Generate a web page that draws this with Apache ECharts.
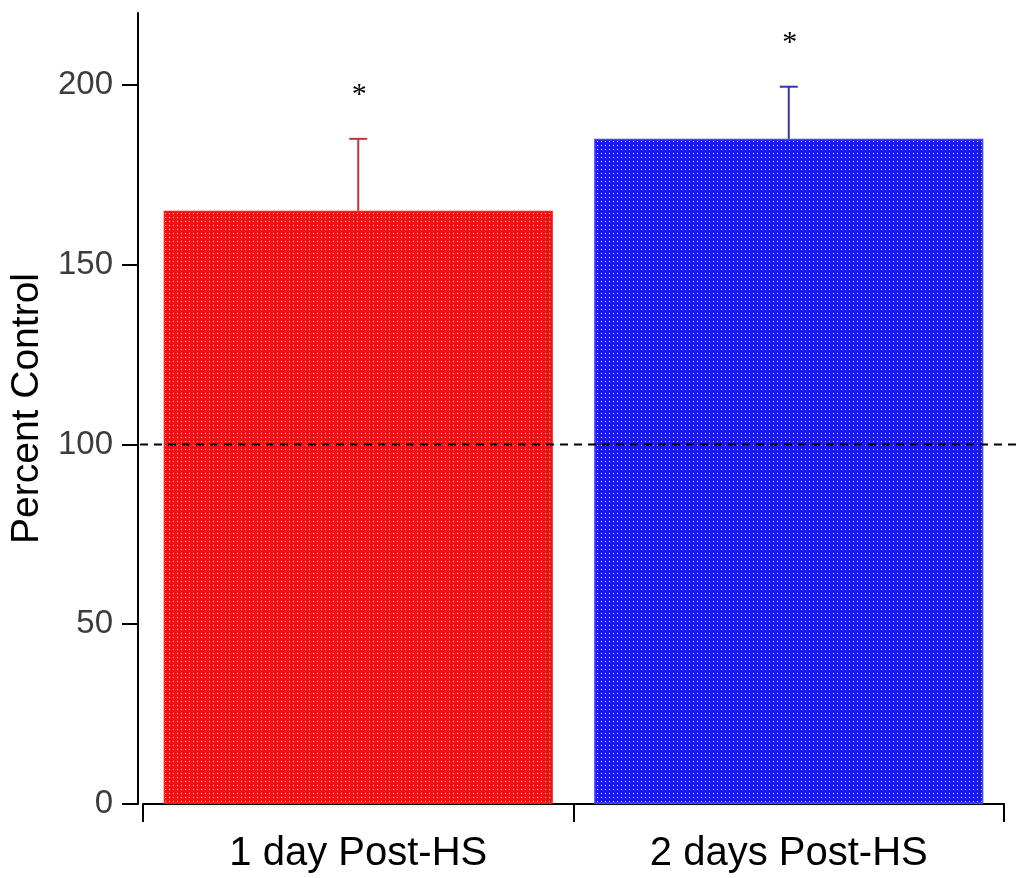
<!DOCTYPE html>
<html>
<head>
<meta charset="utf-8">
<script src="https://cdn.jsdelivr.net/npm/echarts@6/dist/echarts.min.js"></script>
<style>
html,body{margin:0;padding:0;background:#fff;}
#chart{width:1021px;height:878px;}
</style>
</head>
<body>
<div id="chart"></div>
<script>
// ---- data ----
var categories = ['1 day Post-HS', '2 days Post-HS'];
var meanValues = [165, 185];
var errorValues = [20, 14.5];
var sigMarks = ['*', '*'];
var yTickValues = [0, 50, 100, 150, 200];
var referenceValue = 100;

// ---- styles ----
var barBase = ['#ea1414', '#1a1ae4'];
var barDot = ['#ffdcdc', '#e0e0ff'];
var barEdge = ['#ff1a1a', '#4646ff'];
var errColors = ['#c0343c', '#3434a8'];

function makePattern(base, dot) {
  var c = document.createElement('canvas');
  c.width = 4; c.height = 4;
  var ctx = c.getContext('2d');
  ctx.fillStyle = base;
  ctx.fillRect(0, 0, 4, 4);
  ctx.fillStyle = dot;
  ctx.fillRect(1, 1, 1, 1);
  return { image: c, repeat: 'repeat' };
}

var chart = echarts.init(document.getElementById('chart'), null, { renderer: 'canvas' });

var barData = meanValues.map(function (v, i) {
  return {
    value: v,
    itemStyle: {
      color: makePattern(barBase[i], barDot[i]),
      borderColor: barEdge[i],
      borderWidth: 1.5
    }
  };
});

var errData = meanValues.map(function (v, i) { return [i, v, v + errorValues[i], sigMarks[i]]; });

var option = {
  animation: false,
  backgroundColor: '#ffffff',
  grid: { left: 143, right: 17, top: 13, bottom: 74 },
  xAxis: {
    type: 'category',
    data: categories,
    offset: 4,
    boundaryGap: true,
    axisLine: { lineStyle: { color: '#000', width: 2 } },
    axisTick: { show: true, length: 18, lineStyle: { color: '#000', width: 2 } },
    axisLabel: { color: '#000', fontSize: 40, fontFamily: "'Liberation Sans', Arial, sans-serif", margin: 26 }
  },
  yAxis: {
    type: 'value',
    min: 0,
    max: 220,
    offset: 5,
    splitLine: { show: false },
    name: 'Percent Control',
    nameLocation: 'middle',
    nameGap: 85,
    nameTextStyle: { color: '#000', fontSize: 39, fontFamily: "'Liberation Sans', Arial, sans-serif" },
    axisLine: { show: true, lineStyle: { color: '#000', width: 2 } },
    axisTick: { show: true, length: 16, lineStyle: { color: '#000', width: 2 }, customValues: yTickValues },
    axisLabel: { color: '#3c3c3c', fontSize: 33, fontFamily: "'Liberation Sans', Arial, sans-serif", margin: 25, customValues: yTickValues }
  },
  series: [
    {
      type: 'bar',
      data: barData,
      barCategoryGap: '9.6%',
      z: 2
    },
    {
      type: 'custom',
      data: errData,
      z: 3,
      renderItem: function (params, api) {
        var i = api.value(0);
        var base = api.coord([i, api.value(1)]);
        var top = api.coord([i, api.value(2)]);
        var col = errColors[params.dataIndex];
        var cap = 9;
        return {
          type: 'group',
          children: [
            { type: 'line', shape: { x1: top[0], y1: base[1], x2: top[0], y2: top[1] }, style: { stroke: col, lineWidth: 2 } },
            { type: 'line', shape: { x1: top[0] - cap, y1: top[1], x2: top[0] + cap, y2: top[1] }, style: { stroke: col, lineWidth: 2 } },
            { type: 'text', x: top[0] + 1, y: top[1] - 44, style: { text: sigMarks[params.dataIndex], fill: '#000', fontSize: 30, fontFamily: "'Liberation Serif', 'Times New Roman', serif", align: 'center', verticalAlign: 'middle' } }
          ]
        };
      }
    },
    {
      type: 'custom',
      data: [[0, referenceValue]],
      z: 5,
      clip: false,
      renderItem: function (params, api) {
        var p = api.coord([0, api.value(1)]);
        var x0 = params.coordSys.x - 3;
        return {
          type: 'line',
          shape: { x1: x0, y1: p[1], x2: api.getWidth(), y2: p[1] },
          style: { stroke: '#000', lineWidth: 2, lineDash: [8, 6] }
        };
      }
    }
  ]
};
chart.setOption(option);
</script>
</body>
</html>
